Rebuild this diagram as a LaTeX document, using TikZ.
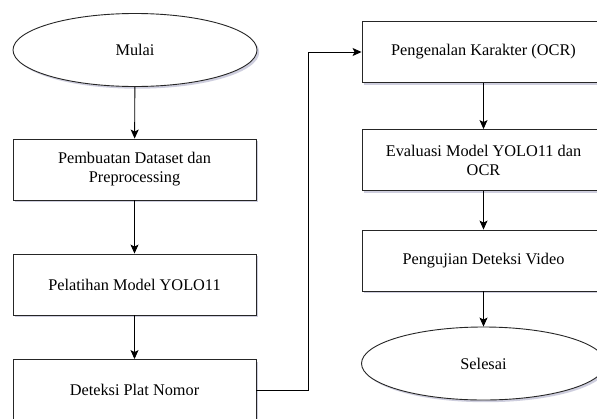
\documentclass[tikz,border=0pt]{standalone}
\usepackage{fontspec}
\setmainfont{Liberation Serif}
\usetikzlibrary{shapes.geometric,arrows.meta,shadows}
\begin{document}
\begin{tikzpicture}[x=1pt,y=-1pt,
  base/.style={draw=black!85, line width=0.9pt, fill=white, align=center,
    font=\fontsize{16.3}{19}\selectfont,
    drop shadow={shadow xshift=2.2pt, shadow yshift=-2.2pt, fill=blue!20!gray!45, opacity=0.7}},
  procbox/.style={base, rectangle, minimum width=243pt, minimum height=61pt, inner sep=0pt},
  termell/.style={base, ellipse, minimum width=244pt, minimum height=73pt, inner sep=0pt},
  conn/.style={draw=black, line width=0.9pt, -{Stealth[length=9pt,width=8pt,inset=2pt]}}]
\clip (0,0) rectangle (597,418);
\useasboundingbox (0,0) rectangle (597,418);
\fill[white] (0,0) rectangle (597,418);
% left column
\node[termell] (mulai) at (135,50) {Mulai};
\node[procbox] (dataset) at (134.5,169.5) {Pembuatan Dataset dan\\Preprocessing};
\node[procbox] (latih) at (134.5,284.5) {Pelatihan Model YOLO11};
\node[procbox] (deteksi) at (134.5,390) {Deteksi Plat Nomor};
% right column
\node[procbox] (ocr) at (483.5,52) {Pengenalan Karakter (OCR)};
\node[procbox] (eval) at (483.5,160) {Evaluasi Model YOLO11 dan\\OCR};
\node[procbox] (uji) at (483.5,260.5) {Pengujian Deteksi Video};
\node[termell] (selesai) at (483.5,363.5) {Selesai};
% connectors
\draw[conn] (mulai) -- (dataset);
\draw[conn] (dataset) -- (latih);
\draw[conn] (latih) -- (deteksi);
\coordinate (bend1) at (308,390);
\coordinate (bend2) at (308,52);
\draw[conn] (deteksi.east) -- (bend1) -- (bend2) -- (ocr.west);
\draw[conn] (ocr) -- (eval);
\draw[conn] (eval) -- (uji);
\draw[conn] (uji) -- (selesai);
\end{tikzpicture}
\end{document}
